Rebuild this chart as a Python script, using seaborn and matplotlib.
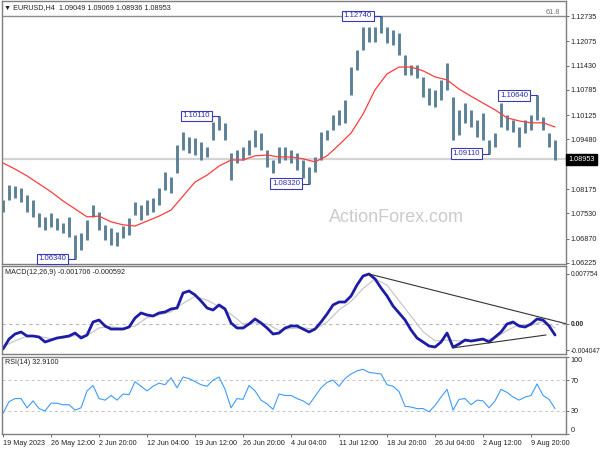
import numpy as np
import pandas as pd
import matplotlib
matplotlib.use("Agg")
import matplotlib.pyplot as plt
import seaborn as sns

# EURUSD H4 - high / low, one sample every 4 bars
bar_high = [1.0789, 1.0828, 1.0825, 1.0820, 1.0802, 1.0789, 1.0754, 1.0744, 1.0754, 1.0741,
            1.0728, 1.0744, 1.0696, 1.0702, 1.0736, 1.0775, 1.0757, 1.0723, 1.0715, 1.0704,
            1.0720, 1.0741, 1.0783, 1.0775, 1.0789, 1.0794, 1.0820, 1.0862, 1.0849, 1.0934,
            1.0968, 1.0955, 1.0952, 1.0941, 1.0928, 1.0994, 1.1011, 1.0992, 1.0912, 1.0920,
            1.0928, 1.0947, 1.0973, 1.0965, 1.0920, 1.0894, 1.0928, 1.0928, 1.0920, 1.0912,
            1.0894, 1.0876, 1.0902, 1.0968, 1.0973, 1.1013, 1.1026, 1.1052, 1.1139, 1.1184,
            1.1245, 1.1245, 1.1245, 1.1274, 1.1245, 1.1237, 1.1229, 1.1171, 1.1144, 1.1144,
            1.1113, 1.1084, 1.1079, 1.1105, 1.1150, 1.1060, 1.1026, 1.1044, 1.1026, 1.0999,
            1.1018, 1.0947, 1.0965, 1.1044, 1.1013, 1.0999, 1.0981, 1.0999, 1.1013, 1.1064,
            1.1007, 1.0965, 1.0947]
bar_low = [1.0757, 1.0789, 1.0794, 1.0783, 1.0757, 1.0744, 1.0717, 1.0709, 1.0717, 1.0709,
           1.0702, 1.0691, 1.0634, 1.0657, 1.0683, 1.0744, 1.0709, 1.0683, 1.0670, 1.0667,
           1.0688, 1.0696, 1.0749, 1.0736, 1.0749, 1.0757, 1.0775, 1.0815, 1.0807, 1.0860,
           1.0920, 1.0912, 1.0907, 1.0894, 1.0902, 1.0947, 1.0973, 1.0947, 1.0841, 1.0886,
           1.0894, 1.0907, 1.0928, 1.0920, 1.0876, 1.0860, 1.0886, 1.0894, 1.0886, 1.0868,
           1.0847, 1.0832, 1.0862, 1.0894, 1.0947, 1.0973, 1.0986, 1.0992, 1.1065, 1.1131,
           1.1184, 1.1205, 1.1205, 1.1229, 1.1202, 1.1197, 1.1171, 1.1118, 1.1118, 1.1110,
           1.1060, 1.1039, 1.1034, 1.1052, 1.1079, 1.0947, 1.0960, 1.0992, 1.0981, 1.0955,
           1.0947, 1.0911, 1.0928, 1.0981, 1.0973, 1.0968, 1.0928, 1.0965, 1.0973, 1.0999,
           1.0973, 1.0928, 1.0895]

# red moving average, one sample every 8 bars
sma = [1.0886, 1.0870, 1.0852, 1.0831, 1.0810, 1.0786, 1.0765, 1.0744, 1.0746, 1.0731,
       1.0723, 1.0720, 1.0733, 1.0746, 1.0762, 1.0799, 1.0836, 1.0854, 1.0878, 1.0894,
       1.0894, 1.0905, 1.0907, 1.0902, 1.0902, 1.0897, 1.0889, 1.0905, 1.0934, 1.0965,
       1.1015, 1.1079, 1.1121, 1.1139, 1.1139, 1.1129, 1.1113, 1.1105, 1.1081, 1.1062,
       1.1044, 1.1026, 1.1005, 1.0997, 1.0992, 1.0992, 1.0981]

# MACD main line (x 1e-3), every 4 bars
macd_main = [-3.88, -2.33, -1.55, -1.24, -1.86, -1.86, -2.02, -2.79, -2.48, -2.17,
             -2.02, -1.86, -1.40, -2.17, -1.71, 0.31, 0.62, -0.31, -0.78, -0.78,
             -0.78, -0.47, 0.93, 1.71, 1.40, 1.24, 1.71, 1.86, 2.33, 2.48,
             4.81, 5.12, 4.50, 3.57, 2.48, 2.17, 2.95, 2.33, 0.16, -0.62,
             -0.62, 0.00, 0.78, 0.16, -0.62, -1.55, -1.40, -0.62, -0.31, -0.31,
             -0.78, -1.24, -0.78, 0.31, 1.55, 2.95, 3.41, 3.41, 4.34, 6.05,
             7.44, 7.75, 6.98, 5.58, 4.34, 2.79, 1.71, 0.62, -0.93, -2.17,
             -2.79, -3.41, -3.57, -2.79, -1.40, -3.60, -3.10, -2.48, -2.64, -2.48,
             -2.33, -2.79, -2.02, -1.24, 0.00, 0.31, -0.31, -0.47, 0.00, 0.78,
             0.62, -0.31, -1.71]
# MACD signal line (x 1e-3), every 8 bars
macd_signal = [-3.5, -2.6, -1.9, -1.9, -2.3, -2.2, -1.8, -1.8, -0.6, -0.4,
               -0.7, -0.3, 1.0, 1.4, 1.9, 3.2, 4.3, 3.7, 2.7, 1.5,
               0.0, 0.2, 0.0, -1.0, -0.7, -0.6, -0.8, 0.3, 2.2, 3.5,
               5.5, 7.0, 6.0, 3.6, 1.2, -1.2, -2.6, -2.5, -2.6, -2.7,
               -2.5, -2.2, -1.0, -0.1, -0.2, 0.4, -0.6]
macd_trend_top = ([244, 376], [0.007754, 0.0])
macd_trend_low = ([300, 362], [-0.0037, -0.0017])

# RSI(14), every 4 bars
rsi = [27, 42, 46, 46, 34, 43, 33, 30, 40, 40, 38, 38, 31, 34, 56, 63, 46, 44, 50, 44,
       52, 51, 68, 62, 56, 62, 66, 64, 73, 60, 74, 72, 68, 64, 62, 70, 74, 58, 34, 46,
       45, 63, 56, 44, 39, 32, 52, 50, 50, 46, 43, 38, 49, 60, 67, 70, 62, 72, 78, 82,
       84, 80, 79, 78, 64, 62, 55, 36, 35, 33, 33, 29, 37, 48, 58, 31, 45, 46, 38, 44,
       43, 34, 43, 58, 54, 48, 44, 48, 50, 65, 50, 45, 33]

time_labels = ["19 May 2023", "26 May 12:00", "2 Jun 20:00", "12 Jun 04:00", "19 Jun 12:00",
               "26 Jun 20:00", "4 Jul 04:00", "11 Jul 12:00", "18 Jul 20:00", "26 Jul 04:00",
               "2 Aug 12:00", "9 Aug 20:00"]
price_ticks = [1.12735, 1.12075, 1.11430, 1.10785, 1.10125, 1.09480, 1.08835,
               1.08175, 1.07530, 1.06870, 1.06225]
# swing labels: text, bar index, price
swings = [("1.06340", 48, 1.0634), ("1.10110", 144, 1.1011), ("1.08320", 204, 1.0832),
          ("1.12740", 252, 1.1274), ("1.09110", 324, 1.0911), ("1.10640", 356, 1.1064)]
last_price = 1.08953
fib_level = 1.1274

bars = pd.DataFrame({"bar": np.arange(len(bar_high)) * 4, "high": bar_high, "low": bar_low})
ma = pd.DataFrame({"bar": np.arange(len(sma)) * 8, "sma": sma})
macd = pd.DataFrame({"bar": np.arange(len(macd_main)) * 4, "macd": np.array(macd_main) * 1e-3})
sig = pd.DataFrame({"bar": np.arange(len(macd_signal)) * 8, "signal": np.array(macd_signal) * 1e-3})
rsi_df = pd.DataFrame({"bar": np.arange(len(rsi)) * 4, "rsi": rsi})

sns.set_style("white")
plt.rcParams["font.family"] = ["Liberation Sans", "DejaVu Sans"]
FS = 5.2
frame = "#7f7f7f"
bar_col = "#5b8197"

fig = plt.figure(figsize=(6, 4.5), dpi=100)
W, H = 600, 450
def panel(top, bottom):
    return fig.add_axes([2 / W, 1 - bottom / H, 564 / W, (bottom - top) / H])
ax1 = panel(1, 264)
ax2 = panel(266, 354)
ax3 = panel(357, 434)

for ax in (ax1, ax2, ax3):
    ax.set_xlim(-0.7, 375.3)
    for s in ax.spines.values():
        s.set_color(frame)
        s.set_linewidth(1)
    ax.yaxis.tick_right()
    ax.tick_params(axis="y", right=True, length=2.5, width=0.6, color="#555555",
                   labelsize=FS, pad=1.0, labelcolor="#222222")

# ---- price panel
ax1.set_ylim(1.06198, 1.13131)
ax1.axhline(last_price, color="#d4d4d4", lw=1.6, zorder=1)
ax1.axhline(fib_level, color="#8c8c8c", lw=1, zorder=1)
ax1.text(0.70, 0.175, "ActionForex.com", transform=ax1.transAxes, fontsize=13,
         color="#cbcbcb", ha="center", va="center", zorder=0)
ax1.vlines(bars["bar"], bars["low"], bars["high"], color=bar_col, lw=2.1, zorder=2)
sns.lineplot(data=ma, x="bar", y="sma", ax=ax1, color="#ff3c3c", lw=0.9, zorder=3)
for txt, b, p in swings:
    ax1.plot([b - 6, b], [p, p], color="#3a3ab8", lw=0.8, zorder=4)
    ax1.text(b - 6, p, txt, ha="right", va="center", fontsize=FS + 0.4, color="#2b2bb0",
             zorder=5, bbox=dict(boxstyle="square,pad=0.2", fc="white", ec="#3a3ab8", lw=0.8))
ax1.text(0.99, fib_level, "61.8", transform=ax1.get_yaxis_transform(), ha="right",
         va="bottom", fontsize=FS, color="#707070")
ax1.text(0.004, 0.99, "\u25bc EURUSD,H4  1.09049 1.09069 1.08936 1.08953",
         transform=ax1.transAxes, ha="left", va="top", fontsize=FS, color="#222222")
ax1.set_yticks(price_ticks)
ax1.set_yticklabels([f"{t:.5f}" for t in price_ticks])
ax1.text(1.004, last_price, f"{last_price:.5f}", transform=ax1.get_yaxis_transform(),
         ha="left", va="center", fontsize=FS, color="white", zorder=10, clip_on=False,
         bbox=dict(boxstyle="square,pad=0.3", fc="black", ec="black"))
ax1.set_xticks([])
ax1.set_xlabel("")
ax1.set_ylabel("")

# ---- MACD panel
ax2.set_ylim(-0.00465, 0.00899)
ax2.axhline(0, color="#b8b8b8", lw=0.8, ls=(0, (3, 3)))
sns.lineplot(data=sig, x="bar", y="signal", ax=ax2, color="#c8c8c8", lw=0.9)
sns.lineplot(data=macd, x="bar", y="macd", ax=ax2, color="#1c1ca6", lw=2.0)
ax2.plot(*macd_trend_top, color="#333333", lw=0.8)
ax2.plot(*macd_trend_low, color="#333333", lw=0.8)
ax2.set_yticks([0.007754, 0.0, -0.004047])
ax2.set_yticklabels(["0.007754", "0.00", "-0.004047"])
ax2.tick_params(axis="y", labelsize=4.8)
ax2.get_yticklabels()[1].set_fontweight("bold")
ax2.text(0.005, 0.965, "MACD(12,26,9) -0.001706 -0.000592", transform=ax2.transAxes,
         ha="left", va="top", fontsize=FS, color="#222222")
ax2.set_xticks([])
ax2.set_xlabel("")
ax2.set_ylabel("")

# ---- RSI panel
ax3.set_ylim(0, 100)
for lvl in (70, 30):
    ax3.axhline(lvl, color="#c4c4c4", lw=0.7, ls=(0, (3, 3)))
sns.lineplot(data=rsi_df, x="bar", y="rsi", ax=ax3, color="#3d9cff", lw=0.8)
ax3.set_yticks([100, 70, 30, 0])
ax3.set_yticklabels(["100", "70", "30", "0"])
ylabs = ax3.get_yticklabels()
ylabs[0].set_va("top")
ylabs[3].set_va("bottom")
ax3.text(0.005, 0.975, "RSI(14) 32.9100", transform=ax3.transAxes,
         ha="left", va="top", fontsize=FS, color="#222222")
ax3.set_xticks(np.arange(len(time_labels)) * 32)
ax3.set_xticklabels(time_labels, ha="left")
ax3.tick_params(axis="x", bottom=True, length=2.5, width=0.6, color="#555555",
                labelsize=FS, pad=1.5, labelcolor="#222222")
ax3.set_xlabel("")
ax3.set_ylabel("")

fig.savefig("out.png", dpi=100)
